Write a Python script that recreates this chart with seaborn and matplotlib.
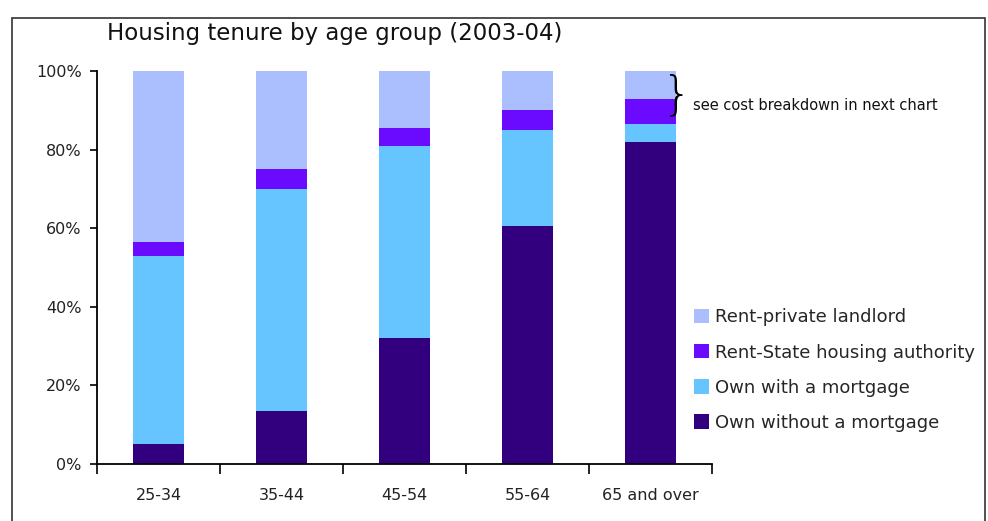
import matplotlib
matplotlib.use("Agg")
import matplotlib.pyplot as plt
import seaborn as sns
import numpy as np
from matplotlib.patches import Rectangle

# values, percent of each age group
ages = ['25-34', '35-44', '45-54', '55-64', '65 and over']
own_outright = [5.0, 13.5, 32.0, 60.5, 82.0]
own_mortgage = [48.0, 56.5, 49.0, 24.5, 4.5]
rent_state = [3.5, 5.0, 4.5, 5.0, 6.5]
rent_private = [43.5, 25.0, 14.5, 10.0, 7.0]

series_names = ['Rent-private landlord', 'Rent-State housing authority',
                'Own with a mortgage', 'Own without a mortgage']
colors = ['#ABBFFF', '#6A0AFF', '#66C5FF', '#32007F']

sns.set_style('white')
plt.rcParams['font.family'] = ['DejaVu Sans']

fig = plt.figure(figsize=(9.88, 5.21), dpi=100)
ax = fig.add_axes([0.0982, 0.1094, 0.6225, 0.7543])

# stack by overdrawing cumulative totals, tallest first
layers = [own_outright, own_mortgage, rent_state, rent_private]
cums = np.cumsum(np.array(layers), axis=0)
for i in range(3, -1, -1):
    sns.barplot(x=ages, y=cums[i], color=colors[3 - i], width=0.41,
                label=series_names[3 - i], ax=ax, saturation=1, edgecolor='none')

ax.set_xlim(-0.5, 4.5)
ax.set_ylim(0, 100)
ax.set_yticks([0, 20, 40, 60, 80, 100])
ax.set_yticklabels(['0%', '20%', '40%', '60%', '80%', '100%'], fontsize=11.5, color='#222222')
ax.tick_params(axis='y', length=5, width=1.2, color='black', direction='out', left=True, pad=6)
ax.set_xticks(range(5))
ax.set_xticklabels(ages, fontsize=11.5, color='#222222')
ax.tick_params(axis='x', which='major', length=0, pad=17)
ax.set_xticks(np.arange(-0.5, 5, 1), minor=True)
ax.tick_params(axis='x', which='minor', length=7, width=1.2, color='black', direction='out', bottom=True)
ax.set_xlabel('')
ax.set_ylabel('')
for s in ['top', 'right']:
    ax.spines[s].set_visible(False)
for s in ['left', 'bottom']:
    ax.spines[s].set_color('black')
    ax.spines[s].set_linewidth(1.3)

ax.legend().remove()
handles, labels = ax.get_legend_handles_labels()
fig.legend(handles, labels, loc='upper left', bbox_to_anchor=(0.695, 0.422),
           frameon=False, fontsize=13, handlelength=0.85, handleheight=0.85,
           handletextpad=0.3, labelspacing=0.95, borderaxespad=0)

fig.text(0.108, 0.935, 'Housing tenure by age group (2003-04)', fontsize=16.5,
         color='#111111', ha='left', va='center', fontweight='medium')
fig.text(0.685, 0.818, '}', fontsize=34, ha='center', va='center', color='black',
         fontweight='light')
fig.text(0.701, 0.797, 'see cost breakdown in next chart', fontsize=10.5,
         ha='left', va='center', color='#111111')

# outer frame of the original figure
fig.patches.append(Rectangle((0.012, -0.05), 0.985, 1.015, transform=fig.transFigure,
                             fill=False, edgecolor='#333333', linewidth=1.2))

plt.savefig('out.png', dpi=100)
